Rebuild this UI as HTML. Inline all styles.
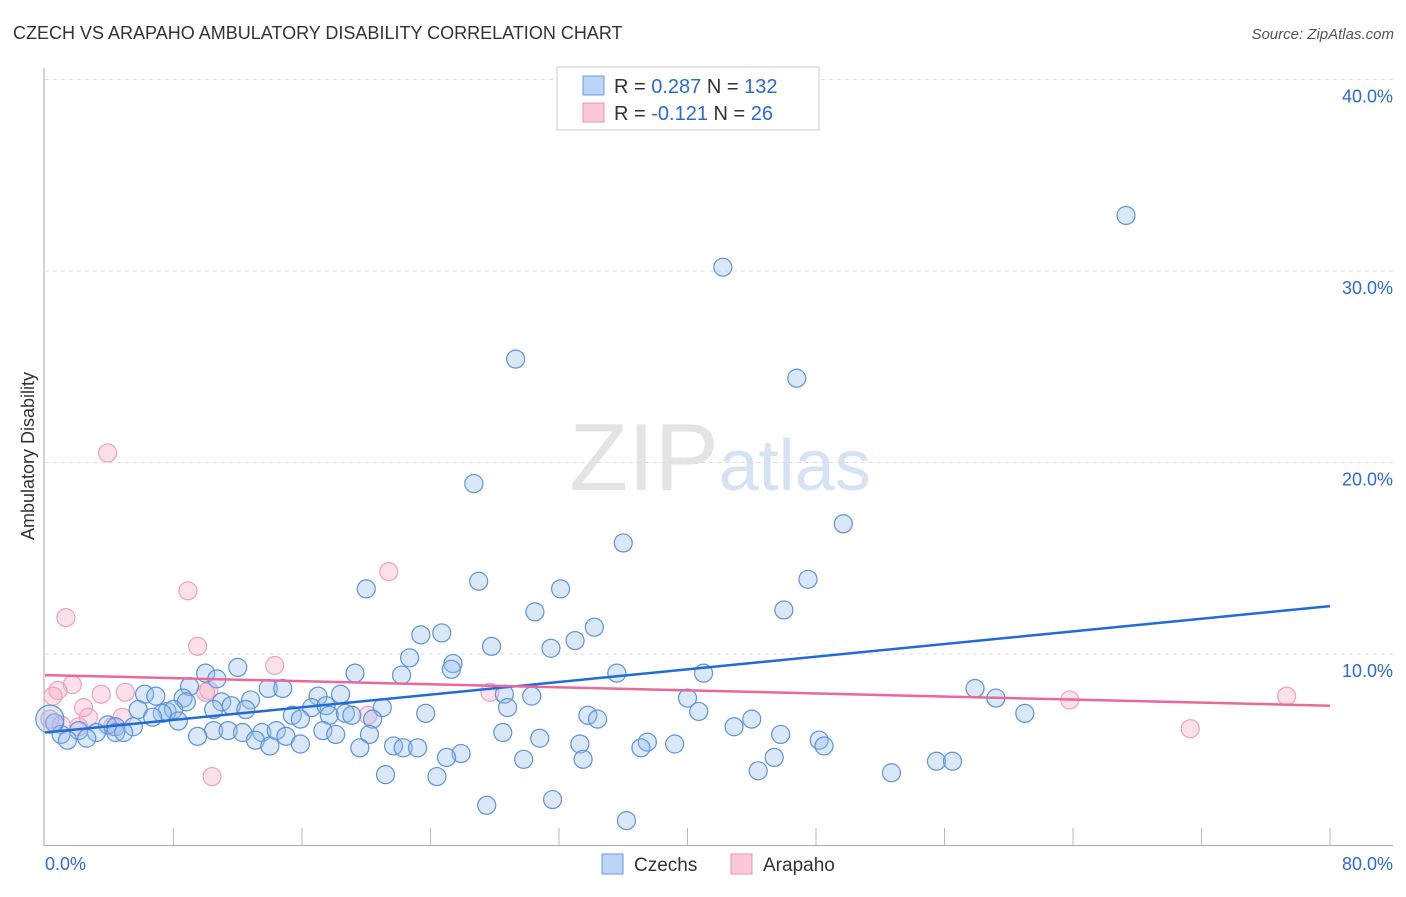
<!DOCTYPE html>
<html><head><meta charset="utf-8"><style>
body{margin:0;background:#fff;font-family:"Liberation Sans",sans-serif;}
svg text{font-family:"Liberation Sans",sans-serif;}
</style></head><body>
<svg id="chart" width="1406" height="892" xmlns="http://www.w3.org/2000/svg">
<text x="13" y="39" font-size="18" fill="#333">CZECH VS ARAPAHO AMBULATORY DISABILITY CORRELATION CHART</text>
<text x="1394" y="39" font-size="15" fill="#555" text-anchor="end" font-style="italic">Source: ZipAtlas.com</text>
<text x="720" y="490" font-size="96" text-anchor="middle" fill="#e4e4e4" font-family="Liberation Serif">ZIP<tspan fill="#d6e3f5" font-family="Liberation Sans" font-size="72">atlas</tspan></text>
<text transform="translate(34,456) rotate(-90)" font-size="18" fill="#333" text-anchor="middle">Ambulatory Disability</text>
<g id="grid"></g>
<g id="axes"></g>
<g id="points"></g>
<g id="trends"></g>
<g>
<rect x="557" y="67" width="262" height="63" fill="#fff" stroke="#ccc"/>
<rect x="583" y="76" width="21" height="19" fill="#bcd4f6" stroke="#6c9be0"/>
<rect x="583" y="103" width="21" height="19" fill="#fbc9d7" stroke="#e994b0"/>
<text x="614" y="93" font-size="20" fill="#333">R = <tspan fill="#2a6ad6">0.287</tspan>   N = <tspan fill="#2a6ad6">132</tspan></text>
<text x="614" y="120" font-size="20" fill="#333">R = <tspan fill="#2a6ad6">-0.121</tspan>   N = <tspan fill="#2a6ad6">  26</tspan></text>
</g>
<g>
<rect x="602" y="854" width="21" height="20" fill="#bcd4f6" stroke="#6c9be0"/>
<text x="634" y="871" font-size="19" fill="#333">Czechs</text>
<rect x="731" y="854" width="21" height="20" fill="#fbc9d7" stroke="#e994b0"/>
<text x="763" y="871" font-size="19" fill="#333">Arapaho</text>
</g>
</svg>
<script>
const czechX=[42.2,67.3,29.3,46.8,26.7,49.7,36.0,27.0,47.5,20.0,32.1,30.5,46.0,34.2,23.4,24.7,33.0,27.8,31.5,22.7,25.4,25.3,12.0,10.0,19.3,22.2,35.6,41.0,10.7,9.0,13.9,14.8,57.9,6.2,6.9,8.6,17.0,18.4,28.6,30.3,40.0,59.2,8.8,11.0,12.8,11.6,5.8,7.6,8.0,10.5,12.5,16.6,17.5,21.0,28.8,40.7,61.0,7.3,6.7,8.3,15.4,15.9,17.7,18.7,19.1,20.4,23.7,33.8,34.4,44.0,42.9,3.9,4.4,5.5,0.6,2.1,3.2,4.4,4.9,10.5,11.4,12.3,13.5,14.4,15.0,17.3,18.1,20.2,28.5,30.8,45.8,48.2,48.5,1.0,1.4,2.6,9.5,13.1,14.0,15.9,19.6,21.7,22.3,23.2,33.3,37.5,37.1,39.2,25.9,25.0,29.8,33.5,45.4,55.5,56.5,44.4,52.7,21.2,24.4,31.6,27.5,36.2,0.3];
const czechY=[30.2,32.9,25.4,24.4,18.9,16.8,15.8,13.8,13.9,13.4,13.4,12.2,12.3,11.4,11.0,11.1,10.7,10.4,10.3,9.8,9.5,9.2,9.3,9.0,9.0,8.9,9.0,9.0,8.7,8.3,8.2,8.2,8.2,7.9,7.8,7.7,7.8,7.9,7.9,7.8,7.7,7.7,7.5,7.5,7.6,7.3,7.1,7.0,7.1,7.1,7.1,7.2,7.3,7.2,7.2,7.0,6.9,6.9,6.7,6.5,6.8,6.6,6.8,6.9,6.8,6.6,6.9,6.8,6.6,6.6,6.2,6.3,6.2,6.2,6.4,6.0,5.9,5.9,5.9,6.0,6.0,5.9,5.9,6.0,5.7,6.0,5.8,5.8,5.9,5.6,5.8,5.5,5.2,5.8,5.5,5.6,5.7,5.5,5.2,5.3,5.1,5.2,5.1,5.1,5.3,5.4,5.1,5.3,4.8,4.6,4.5,4.5,4.6,4.4,4.4,3.9,3.8,3.7,3.6,2.4,2.1,1.3,6.6];
const arapahoX=[3.9,8.9,21.4,1.3,9.5,14.3,1.7,0.8,0.5,3.5,5.0,10.2,10.0,2.4,2.7,4.8,2.1,4.2,20.1,27.7,63.8,77.3,71.3,10.4,0.3,1.0];
const arapahoY=[20.5,13.3,14.3,11.9,10.4,9.4,8.4,8.1,7.8,7.9,8.0,8.1,8.0,7.2,6.7,6.7,6.2,6.2,6.8,8.0,7.6,7.8,6.1,3.6,6.6,6.3];
const yTicks=[10,20,30,40];
const yTickLabels=["10.0%","20.0%","30.0%","40.0%"];
const xTickVals=[0,8,16,24,32,40,48,56,64,72,80];
const czechTrend=[5.9,12.5];
const arapahoTrend=[8.9,7.3];
const X0=45,X1=1330,Yb=845.5,PPU=19.15;
const sx=v=>X0+v/80*(X1-X0);
const sy=v=>Yb-v*PPU;
const NS="http://www.w3.org/2000/svg";
function mk(tag,attrs,parent){const e=document.createElementNS(NS,tag);for(const k in attrs)e.setAttribute(k,attrs[k]);parent.appendChild(e);return e;}
const grid=document.getElementById('grid'),axes=document.getElementById('axes'),pts=document.getElementById('points'),tr=document.getElementById('trends');
yTicks.forEach((t,i)=>{
 const l=mk('line',{x1:45,x2:1393,y1:sy(t),y2:sy(t),stroke:'#ddd','stroke-dasharray':'4,4'},grid);
 
 
 const tx=mk('text',{x:1393,y:sy(t)+23,'font-size':18,fill:'#2a6ad6','text-anchor':'end'},axes);
 tx.textContent=yTickLabels[i];
 
 
});
const ax=mk('line',{x1:44,x2:44,y1:68,y2:846,stroke:'#aaa'},axes);


const bx=mk('line',{x1:44,x2:1393,y1:845.5,y2:845.5,stroke:'#aaa'},axes);


xTickVals.forEach(v=>{if(v===0)return;
 const t=mk('line',{x1:sx(v),x2:sx(v),y1:828,y2:845,stroke:'#bbb'},axes);
 
 
});
const xl=mk('text',{x:45,y:870,'font-size':18,fill:'#2a6ad6'},axes);xl.textContent='0.0%';


const xr=mk('text',{x:1393,y:870,'font-size':18,fill:'#2a6ad6','text-anchor':'end'},axes);xr.textContent='80.0%';


arapahoX.forEach((x,i)=>{
 const c=mk('circle',{cx:sx(x),cy:sy(arapahoY[i]),r:9,fill:'rgba(247,170,195,0.35)',stroke:'#f0a0bb','stroke-width':1.2},pts);
 
 
});
czechX.forEach((x,i)=>{
 const big=(i===czechX.length-1);
 const c=mk('circle',{cx:sx(x),cy:sy(czechY[i]),r:big?14:9,fill:'rgba(150,190,240,0.35)',stroke:'#5b93e0','stroke-width':1.2},pts);
 
 
});
const l1=mk('line',{x1:sx(0),y1:sy(czechTrend[0]),x2:sx(80),y2:sy(czechTrend[1]),stroke:'#1f6bd8','stroke-width':2.5},tr);


const l2=mk('line',{x1:sx(0),y1:sy(arapahoTrend[0]),x2:sx(80),y2:sy(arapahoTrend[1]),stroke:'#e8699a','stroke-width':2.5},tr);


</script>
</body></html>
